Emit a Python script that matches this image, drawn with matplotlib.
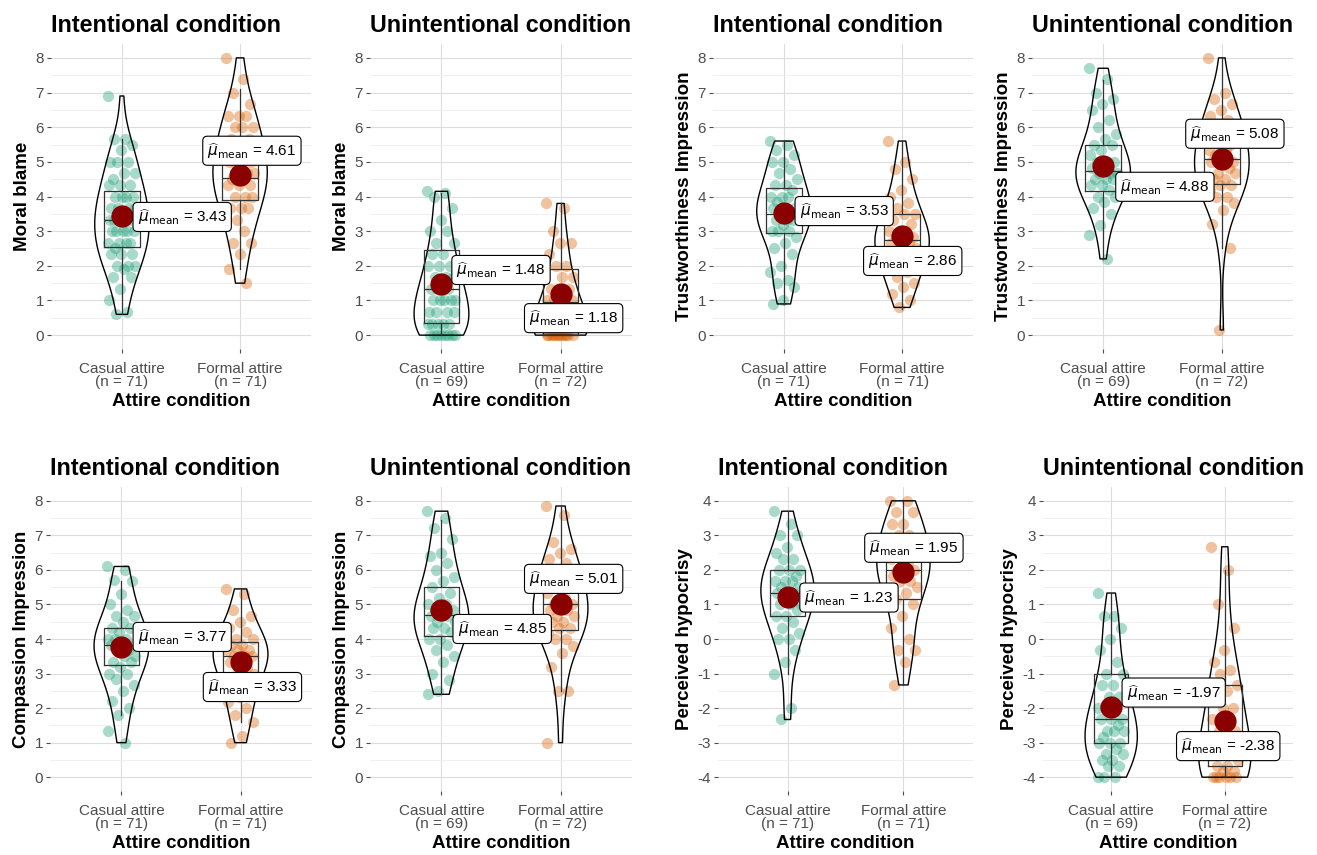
import numpy as np
import matplotlib.pyplot as plt

plt.rcParams['font.family'] = ['Liberation Sans', 'DejaVu Sans']
plt.rcParams['mathtext.fontset'] = 'dejavusans'
plt.rcParams['axes.unicode_minus'] = False

# ---- data ----
groups = ["Casual attire", "Formal attire"]
titles = ["Intentional condition", "Unintentional condition"] * 4
ylabels = ["Moral blame", "Moral blame", "Trustworthiness Impression", "Trustworthiness Impression",
           "Compassion Impression", "Compassion Impression", "Perceived hypocrisy", "Perceived hypocrisy"]
n_counts = [[71, 71], [69, 72], [71, 71], [69, 72], [71, 71], [69, 72], [71, 71], [69, 72]]
means = [[3.43, 4.61], [1.48, 1.18], [3.53, 2.86], [4.88, 5.08],
         [3.77, 3.33], [4.85, 5.01], [1.23, 1.95], [-1.97, -2.38]]

# box stats: whislo, q1, med, q3, whishi
box_casual = [[0.6, 2.55, 3.33, 4.15, 5.67], [0.0, 0.35, 1.33, 2.45, 4.1],
              [0.9, 2.95, 3.5, 4.25, 5.6], [2.2, 4.15, 4.75, 5.5, 7.35],
              [1.8, 3.25, 3.83, 4.33, 5.67], [2.4, 4.08, 4.7, 5.5, 7.45],
              [-1.0, 0.67, 1.33, 2.0, 3.7], [-4.0, -3.0, -2.33, -1.0, 1.33]]
box_formal = [[1.9, 3.9, 4.52, 5.3, 7.1], [0.0, 0.0, 0.95, 1.9, 3.8],
              [0.75, 2.0, 2.75, 3.5, 5.6], [2.5, 4.35, 5.07, 6.25, 8.0],
              [1.6, 3.0, 3.5, 3.92, 5.45], [2.5, 4.25, 5.0, 6.0, 7.85],
              [-1.33, 1.16, 2.0, 3.0, 4.0], [-4.0, -3.67, -2.67, -1.33, 2.0]]

moral_int_casual = [6.9, 5.67, 5.67, 5.5, 5.33, 5.0, 5.0, 5.0, 4.67, 4.67, 4.5, 4.33, 4.33, 4.33, 4.0, 4.0,
                    4.0, 4.0, 3.67, 3.67, 3.67, 3.67, 3.5, 3.33, 3.33, 3.33, 3.33, 3.0, 3.0, 3.0, 3.0, 3.0,
                    2.67, 2.67, 2.67, 2.67, 2.5, 2.33, 2.33, 2.33, 2.0, 2.0, 2.0, 1.9, 1.67, 1.67, 1.33,
                    1.0, 0.67, 0.6]
moral_int_formal = [8.0, 7.4, 7.0, 6.67, 6.33, 6.33, 6.33, 6.0, 6.0, 6.0, 5.67, 5.67, 5.33, 5.33, 5.33,
                    5.0, 5.0, 5.0, 5.0, 4.67, 4.67, 4.67, 4.67, 4.5, 4.33, 4.33, 4.33, 4.0, 4.0, 4.0,
                    3.67, 3.67, 3.67, 3.33, 3.33, 3.0, 2.67, 2.67, 2.33, 1.9, 1.5]
moral_unint_casual = [4.15, 4.1, 4.0, 3.67, 3.33, 3.0, 3.0, 2.67, 2.67, 2.33, 2.33, 2.0, 2.0, 2.0, 1.67,
                      1.67, 1.67, 1.33, 1.33, 1.33, 1.33, 1.0, 1.0, 1.0, 1.0, 1.0, 0.67, 0.67, 0.67, 0.67,
                      0.33, 0.33, 0.33, 0.33, 0.33, 0.0, 0.0, 0.0, 0.0, 0.0, 0.0, 0.0, 0.0]
moral_unint_formal = [3.8, 3.67, 3.0, 2.67, 2.67, 2.33, 2.0, 2.0, 1.67, 1.67, 1.33, 1.33, 1.33, 1.0, 1.0,
                      1.0, 1.0, 0.67, 0.67, 0.67, 0.67, 0.33, 0.33, 0.33, 0.33, 0.0, 0.0, 0.0, 0.0, 0.0,
                      0.0, 0.0, 0.0, 0.0, 0.0, 0.0, 0.0]
trust_int_casual = [5.6, 5.5, 5.33, 5.2, 5.0, 5.0, 4.8, 4.67, 4.5, 4.33, 4.33, 4.2, 4.0, 4.0, 4.0, 3.83,
                    3.67, 3.67, 3.67, 3.5, 3.5, 3.5, 3.33, 3.33, 3.33, 3.17, 3.0, 3.0, 3.0, 2.83, 2.67,
                    2.5, 2.33, 2.0, 1.83, 1.6, 1.5, 1.4, 1.0, 0.9]
trust_int_formal = [5.6, 5.0, 4.8, 4.5, 4.2, 4.0, 3.8, 3.67, 3.5, 3.5, 3.33, 3.2, 3.0, 3.0, 3.0, 2.83,
                    2.83, 2.67, 2.67, 2.67, 2.5, 2.5, 2.33, 2.33, 2.2, 2.0, 2.0, 1.83, 1.67, 1.5, 1.4,
                    1.2, 1.0, 0.8]
trust_unint_casual = [7.7, 7.4, 7.0, 6.8, 6.67, 6.5, 6.2, 6.0, 5.8, 5.67, 5.5, 5.5, 5.33, 5.2, 5.0, 5.0,
                      5.0, 4.83, 4.83, 4.67, 4.67, 4.67, 4.5, 4.5, 4.5, 4.33, 4.33, 4.2, 4.0, 4.0, 3.83,
                      3.67, 3.5, 3.17, 2.9, 2.2]
trust_unint_formal = [8.0, 7.0, 6.8, 6.67, 6.5, 6.33, 6.2, 6.0, 6.0, 5.8, 5.67, 5.5, 5.5, 5.33, 5.33,
                      5.2, 5.0, 5.0, 5.0, 4.83, 4.67, 4.67, 4.5, 4.5, 4.33, 4.33, 4.2, 4.0, 4.0, 3.8,
                      3.6, 3.2, 2.5, 0.15]
comp_int_casual = [6.1, 6.0, 5.7, 5.67, 5.3, 5.0, 4.83, 4.67, 4.67, 4.5, 4.33, 4.33, 4.2, 4.0, 4.0, 4.0,
                   3.83, 3.83, 3.83, 3.67, 3.67, 3.5, 3.5, 3.33, 3.33, 3.2, 3.0, 3.0, 2.83, 2.67, 2.5,
                   2.2, 2.0, 1.8, 1.33, 1.0]
comp_int_formal = [5.45, 5.3, 4.83, 4.67, 4.5, 4.33, 4.2, 4.0, 4.0, 3.83, 3.83, 3.67, 3.67, 3.67, 3.5,
                   3.5, 3.5, 3.33, 3.33, 3.17, 3.0, 3.0, 2.83, 2.67, 2.5, 2.33, 2.17, 2.0, 1.8, 1.6,
                   1.2, 1.0]
comp_unint_casual = [7.7, 7.5, 7.2, 6.9, 6.5, 6.4, 6.2, 6.0, 5.8, 5.67, 5.5, 5.33, 5.2, 5.0, 5.0, 4.83,
                     4.83, 4.67, 4.67, 4.67, 4.5, 4.5, 4.33, 4.33, 4.2, 4.0, 4.0, 3.83, 3.67, 3.5, 3.33,
                     3.0, 2.8, 2.5, 2.4]
comp_unint_formal = [7.85, 7.6, 6.8, 6.6, 6.5, 6.33, 6.2, 6.0, 6.0, 5.8, 5.67, 5.5, 5.5, 5.33, 5.2, 5.0,
                     5.0, 5.0, 4.83, 4.83, 4.67, 4.67, 4.5, 4.5, 4.33, 4.33, 4.17, 4.0, 4.0, 3.8, 3.6,
                     3.2, 2.5, 2.5, 1.0]
hyp_int_casual = [3.7, 3.33, 3.0, 3.0, 2.67, 2.5, 2.33, 2.33, 2.0, 2.0, 2.0, 1.83, 1.67, 1.67, 1.67, 1.5,
                  1.5, 1.33, 1.33, 1.33, 1.17, 1.0, 1.0, 1.0, 0.83, 0.67, 0.67, 0.5, 0.33, 0.17, 0.0,
                  0.0, -0.33, -0.67, -1.0, -2.0, -2.33]
hyp_int_formal = [4.0, 4.0, 3.67, 3.67, 3.33, 3.33, 3.0, 3.0, 2.83, 2.67, 2.67, 2.5, 2.33, 2.33, 2.17,
                  2.0, 2.0, 2.0, 1.83, 1.67, 1.67, 1.5, 1.33, 1.17, 1.0, 0.67, 0.33, 0.0, -0.33, -0.33,
                  -0.67, -1.33]
hyp_unint_casual = [1.33, 0.67, 0.67, 0.33, 0.0, -0.33, -0.67, -1.0, -1.0, -1.33, -1.33, -1.67, -1.67,
                    -2.0, -2.0, -2.0, -2.33, -2.33, -2.33, -2.5, -2.67, -2.67, -2.67, -2.83, -3.0, -3.0,
                    -3.0, -3.17, -3.33, -3.33, -3.5, -3.5, -3.67, -3.67, -4.0, -4.0, -4.0]
hyp_unint_formal = [2.67, 2.0, 1.0, 0.33, -0.33, -0.67, -0.9, -1.0, -1.33, -1.5, -1.67, -2.0, -2.0, -2.33,
                    -2.33, -2.67, -2.67, -3.0, -3.0, -3.33, -3.33, -3.5, -3.67, -3.67, -3.83, -3.83,
                    -4.0, -4.0, -4.0, -4.0, -4.0, -4.0]

panel_data = [(moral_int_casual, moral_int_formal), (moral_unint_casual, moral_unint_formal),
              (trust_int_casual, trust_int_formal), (trust_unint_casual, trust_unint_formal),
              (comp_int_casual, comp_int_formal), (comp_unint_casual, comp_unint_formal),
              (hyp_int_casual, hyp_int_formal), (hyp_unint_casual, hyp_unint_formal)]

# ---- layout (pixels: left, right, top, bottom) ----
W, H = 1317, 855
ax_px = [(51, 311, 44, 349), (370, 632, 44, 349), (713, 973, 44, 349), (1032, 1293, 44, 349),
         (50, 312, 487, 791), (370, 632, 487, 791), (718, 973, 487, 791), (1043, 1293, 487, 791)]
# mean label centres (x, y) in data units
label_pos = [[(1.51, 3.41), (2.10, 5.32)], [(1.50, 1.88), (2.11, 0.49)],
             [(1.51, 3.58), (2.09, 2.14)], [(1.52, 4.28), (2.11, 5.81)],
             [(1.51, 4.06), (2.10, 2.61)], [(1.51, 4.29), (2.11, 5.74)],
             [(1.53, 1.20), (2.09, 2.64)], [(1.55, -1.55), (2.03, -3.10)]]

colors = ["#1B9E77", "#D95F02"]

fig = plt.figure(figsize=(W / 100, H / 100), dpi=100)

for i in range(8):
    l, r, t, b = ax_px[i]
    ax = fig.add_axes([l / W, 1 - b / H, (r - l) / W, (b - t) / H])
    casual, formal = panel_data[i]

    # jittered points
    for k, vals in enumerate([casual, formal]):
        vals = np.asarray(vals)
        offs = ((np.arange(len(vals)) * 0.618034) % 1 - 0.5) * 0.24
        ax.scatter(k + 1 + offs, vals, s=65, color=colors[k], alpha=0.38, lw=0, zorder=2)

    # violins
    parts = ax.violinplot([casual, formal], positions=[1, 2], widths=0.46, showextrema=False)
    for body in parts['bodies']:
        body.set_facecolor('none')
        body.set_edgecolor('black')
        body.set_linewidth(1.0)
        body.set_alpha(1)
        body.set_zorder(3)

    # boxes
    stats = []
    for bs in (box_casual[i], box_formal[i]):
        stats.append(dict(whislo=bs[0], q1=bs[1], med=bs[2], q3=bs[3], whishi=bs[4]))
    lp = dict(color='#333333', lw=0.9)
    ax.bxp(stats, positions=[1, 2], widths=0.3, showfliers=False, showcaps=False,
           boxprops=lp, whiskerprops=lp, medianprops=lp, manage_ticks=False, zorder=3)

    # means + labels
    for k in range(2):
        ax.plot(k + 1, means[i][k], 'o', ms=15, color='#8B0000', zorder=5)
        lx, ly = label_pos[i][k]
        ax.text(lx, ly, r'$\widehat{\mu}_{\mathrm{mean}}$ = ' + f'{means[i][k]:.2f}',
                ha='center', va='center', fontsize=11, zorder=6,
                bbox=dict(boxstyle='round,pad=0.3', fc='white', ec='black', lw=0.8))

    # axes styling
    if i >= 6:
        ax.set_ylim(-4.4, 4.4)
        ax.set_yticks(range(-4, 5))
        ax.set_yticks(np.arange(-3.5, 4, 1), minor=True)
    else:
        ax.set_ylim(-0.4, 8.4)
        ax.set_yticks(range(0, 9))
        ax.set_yticks(np.arange(0.5, 8, 1), minor=True)
    ax.set_xlim(0.4, 2.6)
    ax.set_xticks([1, 2])
    ax.set_xticklabels([f"{g}\n(n = {n})" for g, n in zip(groups, n_counts[i])], linespacing=0.95)
    ax.grid(which='major', color='#DDDDDD', lw=0.8)
    ax.grid(which='minor', axis='y', color='#EEEEEE', lw=0.6)
    ax.set_axisbelow(True)
    for s in ax.spines.values():
        s.set_visible(False)
    ax.tick_params(which='major', length=3, width=0.8, color='#4D4D4D', labelcolor='#4D4D4D',
                   labelsize=11, pad=2)
    ax.tick_params(axis='x', pad=6)
    ax.tick_params(which='minor', length=0)
    ax.set_title(titles[i], loc='left', fontsize=16.8, fontweight='bold', pad=9)
    ax.set_ylabel(ylabels[i], fontsize=13.5, fontweight='bold', labelpad=3)
    ax.set_xlabel("Attire condition", fontsize=13.5, fontweight='bold', labelpad=3)

fig.savefig("out.png", dpi=100, facecolor='white')
